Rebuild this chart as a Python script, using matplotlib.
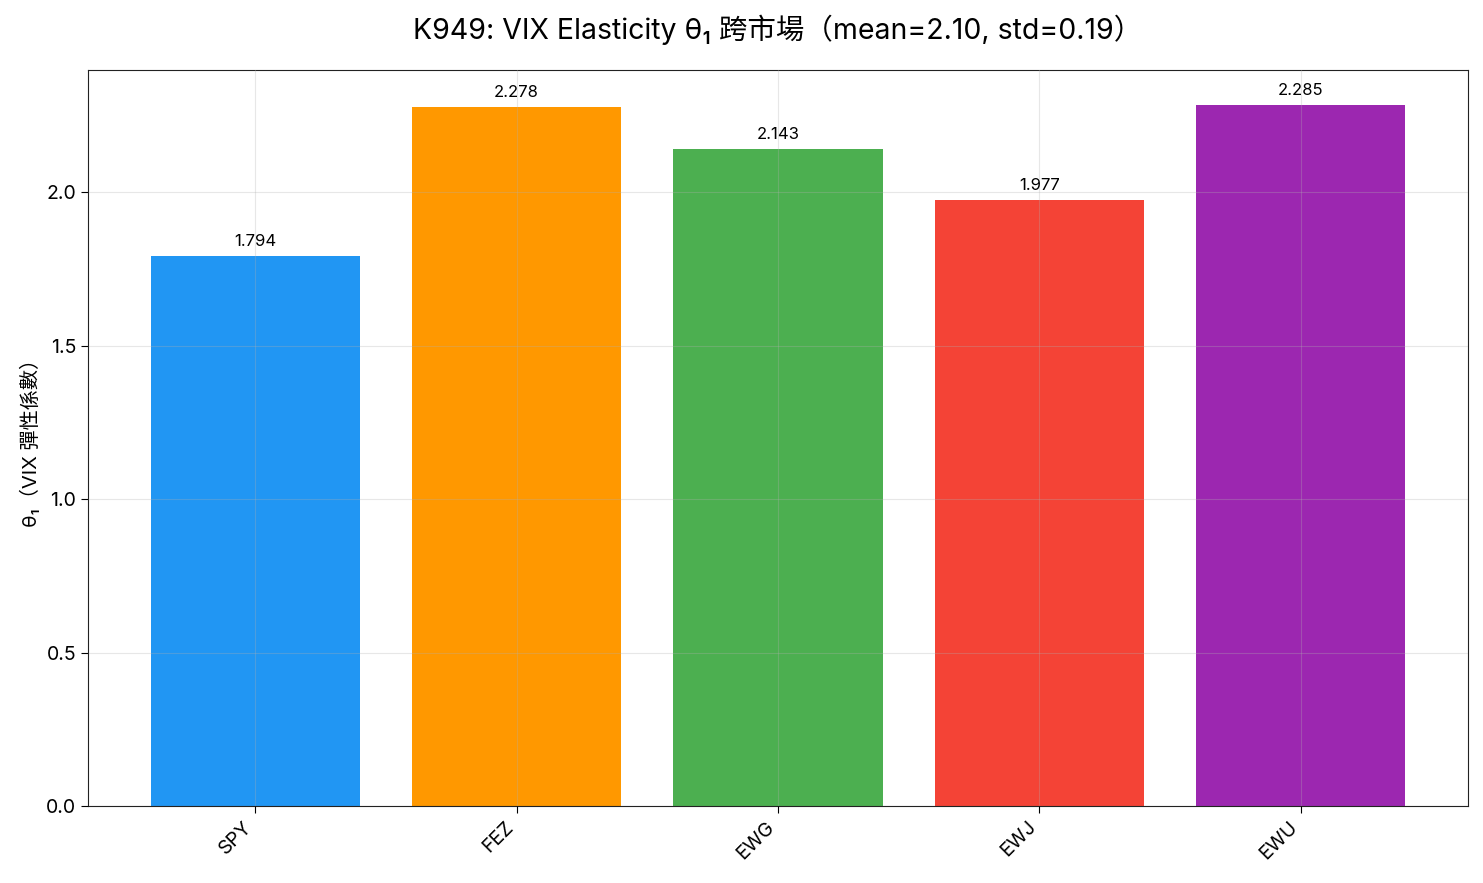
import matplotlib
matplotlib.use("Agg")
import matplotlib.pyplot as plt

plt.rcParams['font.family'] = ['Inter', 'Noto Sans CJK TC', 'DejaVu Sans']

tickers = ["SPY", "FEZ", "EWG", "EWJ", "EWU"]
theta1 = [1.794, 2.278, 2.143, 1.977, 2.285]
colors = ["#2196F3", "#FF9800", "#4CAF50", "#F44336", "#9C27B0"]
title = "K949: VIX Elasticity θ₁ 跨市場（mean=2.10, std=0.19）"
ylabel = "θ₁（VIX 彈性係數）"

fig = plt.figure(figsize=(14.83, 8.83), dpi=100)
ax = fig.add_axes([88/1483, 1 - 806/883, (1468-88)/1483, (806-70)/883])
x = list(range(len(tickers)))
bars = ax.bar(x, theta1, color=colors, width=0.8)
for xi, v in zip(x, theta1):
    ax.annotate(f"{v:.3f}", (xi, v), xytext=(0, 5), textcoords="offset points",
                ha="center", va="bottom", fontsize=12)
ax.set_xticks(x)
ax.set_xticklabels(tickers, rotation=45, ha="right", fontsize=14)
ax.tick_params(axis='both', labelsize=14, length=5)
ax.set_ylabel(ylabel, fontsize=14.5)
ax.set_title(title, fontsize=20.5, pad=22)
ax.grid(True, alpha=0.3)
ax.set_axisbelow(False)
for s in ax.spines.values():
    s.set_color("#222222")
fig.savefig("out.png", dpi=100)
